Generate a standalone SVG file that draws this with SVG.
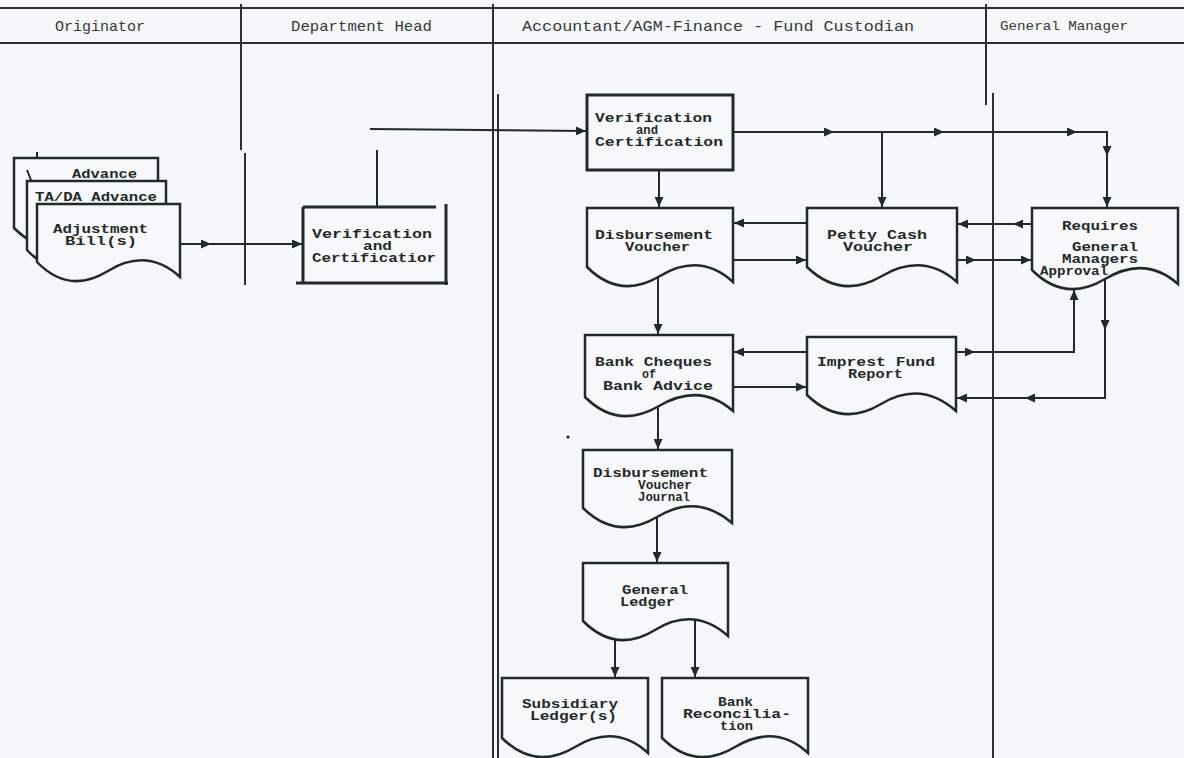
<svg xmlns="http://www.w3.org/2000/svg" width="1184" height="758" viewBox="0 0 1184 758">
<style>
.ln{stroke:#1f2a2a;stroke-width:2;fill:none}
.lane{stroke:#2a3030;stroke-width:2;fill:none}
.doc{fill:#f6f8f9;stroke:#1f2a2a;stroke-width:2.5}
.box{fill:#f6f8f9;stroke:#1f2a2a;stroke-width:3}
.nt{font-family:"Liberation Mono","DejaVu Sans Mono",monospace;font-weight:bold;font-size:12px;fill:#1f2a2a}
.hd{font-family:"Liberation Mono","DejaVu Sans Mono",monospace;font-size:15px;fill:#333a3a}
</style>
<defs>
<marker id="ah" markerWidth="10" markerHeight="9" refX="10" refY="4.5" orient="auto" markerUnits="userSpaceOnUse">
<path d="M0,0 L10,4.5 L0,9 z" fill="#1f2a2a"/>
</marker>
</defs>
<rect x="0" y="0" width="1184" height="758" fill="#f5f7f8"/>

<g id="lanes">
<path class="lane" d="M0,8 H1184"/>
<path class="lane" d="M0,43 H1184"/>
<path class="lane" d="M241,4 V150"/>
<path class="lane" d="M245,153 V285"/>
<path class="lane" d="M493,4 V758"/>
<path class="lane" d="M498,94 V758"/>
<path class="lane" d="M986,4 V105"/>
<path class="lane" d="M993,93 V758"/>
<text class="hd" x="55" y="31" textLength="90" lengthAdjust="spacingAndGlyphs">Originator</text>
<text class="hd" x="291" y="31" textLength="141" lengthAdjust="spacingAndGlyphs">Department Head</text>
<text class="hd" x="522" y="31" textLength="392" lengthAdjust="spacingAndGlyphs">Accountant/AGM-Finance - Fund Custodian</text>
<text class="hd" x="1000" y="30" style="font-size:13px" textLength="128" lengthAdjust="spacingAndGlyphs">General  Manager</text>
</g>

<g id="source-docs">
<path class="doc" d="M158,158 H14 V228 Q47,261 86,237 T158,243 Z"/>
<path class="ln" d="M37,152 V158 M27,170 L31,180"/>
<text class="nt" x="72" y="178" textLength="65" lengthAdjust="spacingAndGlyphs">Advance</text>
<path class="doc" d="M166,181 H27 V250 Q58,283 96,259 T166,265 Z"/>
<text class="nt" x="35" y="201" textLength="122" lengthAdjust="spacingAndGlyphs">TA/DA Advance</text>
<path class="doc" d="M180,204 H37 V262 Q69,295 108,271 T180,277 Z"/>
<text class="nt" x="53" y="233" textLength="95" lengthAdjust="spacingAndGlyphs">Adjustment</text>
<text class="nt" x="65" y="245" textLength="72" lengthAdjust="spacingAndGlyphs">Bill(s)</text>
</g>

<g id="dept-verification">
<rect x="303" y="207" width="143" height="76" fill="#f6f8f9"/>
<path class="box" d="M303,207 H436 M303,207 V283 M446,204 V285 M296,283 H448"/>
<text class="nt" x="312" y="238" textLength="120" lengthAdjust="spacingAndGlyphs">Verification</text>
<text class="nt" x="363" y="250" textLength="29" lengthAdjust="spacingAndGlyphs">and</text>
<text class="nt" x="312" y="262" textLength="124" lengthAdjust="spacingAndGlyphs">Certificatior</text>
</g>

<g id="acct-verification">
<rect class="box" x="587" y="95" width="146" height="75"/>
<text class="nt" x="595" y="122" textLength="117" lengthAdjust="spacingAndGlyphs">Verification</text>
<text class="nt" x="636" y="134" textLength="22" lengthAdjust="spacingAndGlyphs">and</text>
<text class="nt" x="595" y="146" textLength="128" lengthAdjust="spacingAndGlyphs">Certification</text>
</g>

<g id="disbursement-voucher">
<path class="doc" d="M733,208 H587 V267 Q620,300 660,276 T733,282 Z"/>
<text class="nt" x="595" y="239" textLength="118" lengthAdjust="spacingAndGlyphs">Disbursement</text>
<text class="nt" x="625" y="251" textLength="65" lengthAdjust="spacingAndGlyphs">Voucher</text>
</g>

<g id="petty-cash-voucher">
<path class="doc" d="M957,208 H807 V267 Q841,300 882,276 T957,282 Z"/>
<text class="nt" x="827" y="239" textLength="100" lengthAdjust="spacingAndGlyphs">Petty Cash</text>
<text class="nt" x="843" y="251" textLength="70" lengthAdjust="spacingAndGlyphs">Voucher</text>
</g>

<g id="gm-approval">
<path class="doc" d="M1178,208 H1032 V270 Q1065,303 1105,279 T1178,284 Z"/>
<text class="nt" x="1062" y="230" textLength="76" lengthAdjust="spacingAndGlyphs">Requires</text>
<text class="nt" x="1072" y="251" textLength="66" lengthAdjust="spacingAndGlyphs">General</text>
<text class="nt" x="1062" y="263" textLength="76" lengthAdjust="spacingAndGlyphs">Managers</text>
<text class="nt" x="1040" y="275" textLength="68" lengthAdjust="spacingAndGlyphs">Approval</text>
</g>

<g id="bank-cheques">
<path class="doc" d="M733,335 H585 V397 Q618,430 659,406 T733,411 Z"/>
<text class="nt" x="595" y="366" textLength="117" lengthAdjust="spacingAndGlyphs">Bank Cheques</text>
<text class="nt" x="642" y="378" textLength="14" lengthAdjust="spacingAndGlyphs">of</text>
<text class="nt" x="603" y="390" textLength="110" lengthAdjust="spacingAndGlyphs">Bank Advice</text>
</g>

<g id="imprest-fund-report">
<path class="doc" d="M956,337 H807 V395 Q841,428 881,404 T956,411 Z"/>
<text class="nt" x="817" y="366" textLength="118" lengthAdjust="spacingAndGlyphs">Imprest Fund</text>
<text class="nt" x="848" y="378" textLength="55" lengthAdjust="spacingAndGlyphs">Report</text>
</g>

<g id="dv-journal">
<path class="doc" d="M732,450 H583 V508 Q617,541 657,517 T732,523 Z"/>
<circle cx="568" cy="437" r="1.6" fill="#1f2a2a"/>
<text class="nt" x="593" y="477" textLength="115" lengthAdjust="spacingAndGlyphs">Disbursement</text>
<text class="nt" x="638" y="489" textLength="54" lengthAdjust="spacingAndGlyphs">Voucher</text>
<text class="nt" x="638" y="501" textLength="52" lengthAdjust="spacingAndGlyphs">Journal</text>
</g>

<g id="general-ledger">
<path class="doc" d="M728,563 H583 V621 Q616,654 655,630 T728,636 Z"/>
<text class="nt" x="622" y="594" textLength="66" lengthAdjust="spacingAndGlyphs">General</text>
<text class="nt" x="620" y="606" textLength="55" lengthAdjust="spacingAndGlyphs">Ledger</text>
</g>

<g id="subsidiary-ledger">
<path class="doc" d="M648,678 H502 V738 Q535,771 575,747 T648,753 Z"/>
<text class="nt" x="522" y="708" textLength="96" lengthAdjust="spacingAndGlyphs">Subsidiary</text>
<text class="nt" x="530" y="720" textLength="87" lengthAdjust="spacingAndGlyphs">Ledger(s)</text>
</g>

<g id="bank-reconciliation">
<path class="doc" d="M808,678 H662 V738 Q695,771 735,747 T808,753 Z"/>
<text class="nt" x="718" y="706" textLength="35" lengthAdjust="spacingAndGlyphs">Bank</text>
<text class="nt" x="683" y="718" textLength="108" lengthAdjust="spacingAndGlyphs">Reconcilia-</text>
<text class="nt" x="720" y="730" textLength="33" lengthAdjust="spacingAndGlyphs">tion</text>
</g>

<g id="connectors" class="ln">
<path d="M180,244 H211" marker-end="url(#ah)"/>
<path d="M211,244 H302" marker-end="url(#ah)"/>
<path d="M377,150 V207"/>
<path d="M370,129 L586,131" marker-end="url(#ah)"/>
<path d="M659,170 V207" marker-end="url(#ah)"/>
<path d="M733,132 H834" marker-end="url(#ah)"/>
<path d="M834,132 H944" marker-end="url(#ah)"/>
<path d="M944,132 H1077" marker-end="url(#ah)"/>
<path d="M1077,132 H1107 V156" marker-end="url(#ah)"/>
<path d="M1107,156 V207" marker-end="url(#ah)"/>
<path d="M882,132 V207" marker-end="url(#ah)"/>
<path d="M807,223 H734" marker-end="url(#ah)"/>
<path d="M733,260 H806" marker-end="url(#ah)"/>
<path d="M1032,224 H1013" marker-end="url(#ah)"/>
<path d="M1013,224 H958" marker-end="url(#ah)"/>
<path d="M957,260 H976" marker-end="url(#ah)"/>
<path d="M976,260 H1031" marker-end="url(#ah)"/>
<path d="M658,278 V334" marker-end="url(#ah)"/>
<path d="M807,352 H734" marker-end="url(#ah)"/>
<path d="M733,387 H806" marker-end="url(#ah)"/>
<path d="M956,352 H975" marker-end="url(#ah)"/>
<path d="M975,352 H1074 V290" marker-end="url(#ah)"/>
<path d="M1105,279 V330" marker-end="url(#ah)"/>
<path d="M1105,330 V398 H1025" marker-end="url(#ah)"/>
<path d="M1025,398 H957" marker-end="url(#ah)"/>
<path d="M658,406 V449" marker-end="url(#ah)"/>
<path d="M657,517 V562" marker-end="url(#ah)"/>
<path d="M615,640 V677" marker-end="url(#ah)"/>
<path d="M695,620 V677" marker-end="url(#ah)"/>
</g>
</svg>
